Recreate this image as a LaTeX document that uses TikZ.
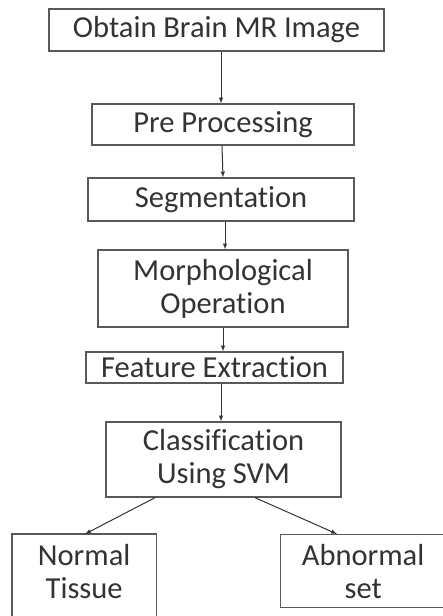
\documentclass[tikz,border=0pt]{standalone}
\usepackage{fontspec}
\setmainfont{Carlito}[Ligatures=NoCommon]
\usepackage{tikz}
\usetikzlibrary{positioning, arrows, calc}

\begin{document}
\begin{tikzpicture}[x=1pt, y=-1pt,
  box/.style={draw=black!65, line width=1.3pt, fill=white, text=black!80,
    inner sep=0pt, align=center, font=\fontsize{30.5}{33}\selectfont},
  flow/.style={->, >=latex, line width=1pt, black!80}]

  % --- Area ---
  \useasboundingbox (0,0) rectangle (443,616);

  % --- Passi ---
  \node[box, minimum width=335pt, minimum height=42pt]
    (obtain) at (216.5,30) {Obtain Brain MR Image};
  \node[box, minimum width=262pt, minimum height=41pt]
    (prepro) at (223,124.5) {Pre Processing};
  \node[box, minimum width=266pt, minimum height=43pt]
    (segm) at (221,199.5) {Segmentation};
  \node[box, minimum width=250pt, minimum height=77pt]
    (morph) at (223,288.5) {Morphological\\Operation};
  \node[box, minimum width=257pt, minimum height=31pt]
    (featx) at (214.5,367.5) {Feature Extraction};
  \node[box, minimum width=235pt, minimum height=75pt]
    (classif) at (223.5,459.5) {Classification\\Using SVM};

  % --- Esiti ---
  \node[box, draw=none, minimum width=143pt, minimum height=73pt, anchor=north west]
    (normal) at (12,534) {Normal\\Tissue};
  \draw[black!65, line width=1.3pt]
    (normal.north west) rectangle ($(normal.south east)+(0,20)$);
  \node[box, minimum width=165pt, minimum height=73pt, anchor=north west]
    (abnormal) at (280,534) {Abnormal\\set};

  % --- Frecce ---
  \draw[flow] (obtain.south -| 221,0) -- (prepro.north -| 221,0);
  \draw[flow] (prepro.south -| 222,0) -- (segm.north -| 223,0);
  \draw[flow] (segm.south -| 225,0) -- (morph.north -| 225,0);
  \draw[flow] (morph.south -| 223,0) -- (featx.north -| 223,0);
  \draw[flow] (featx.south -| 221,0) -- (classif.north -| 221,0);
  \draw[flow] (classif.south -| 155,0) -- (normal.north -| 85,0);
  \draw[flow] (classif.south -| 255,0) -- (abnormal.north -| 337,0);

\end{tikzpicture}
\end{document}
